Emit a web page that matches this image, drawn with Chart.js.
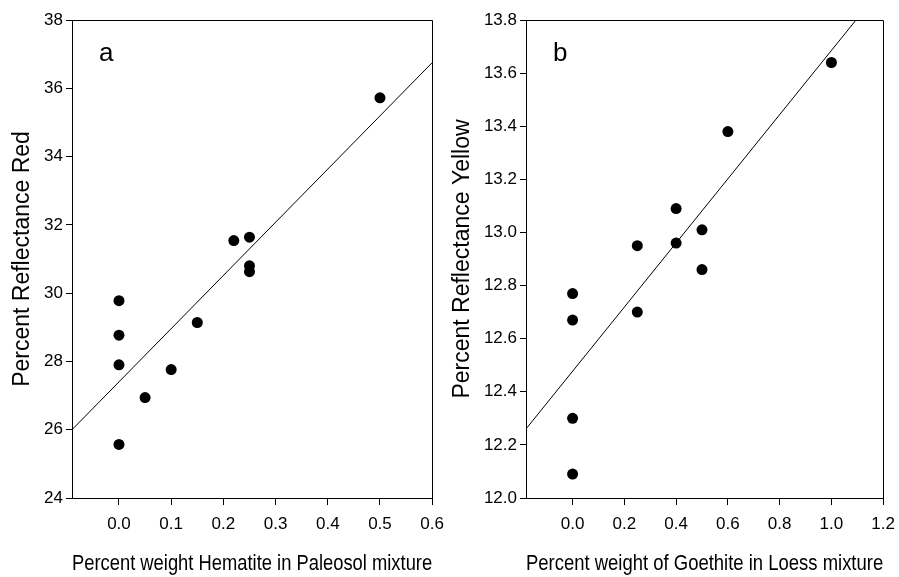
<!DOCTYPE html>
<html>
<head>
<meta charset="utf-8">
<script src="https://cdn.jsdelivr.net/npm/chart.js@4.4.1/dist/chart.umd.min.js"></script>
<style>
    html, body { margin: 0; padding: 0; background: #fff; overflow: hidden; }
    #wrap { position: relative; width: 899px; height: 577px; overflow: hidden; }
    #chart_a { position: absolute; left: 0; top: 0; }
    #chart_b { position: absolute; left: 440px; top: 0; }
</style>
</head>
<body>
<div id="wrap">
    <canvas id="chart_a" width="453" height="577"></canvas>
    <canvas id="chart_b" width="464" height="577"></canvas>
</div>
<script>

// Panel a : hematite in paleosol (x) vs percent reflectance red (y)
var hematite_x = [0, 0, 0, 0, 0.05, 0.1, 0.15, 0.22, 0.25, 0.25, 0.25, 0.5];
var red_y      = [29.78, 28.77, 27.9, 25.57, 26.94, 27.76, 29.14, 31.54, 31.64, 30.8, 30.63, 35.72];

// Regression line a, end points
var red_fit_x = [-0.09, 0.6];
var red_fit_y = [26.0, 36.75];

// Panel b : goethite in loess (x) vs percent reflectance yellow (y)
var goethite_x = [0, 0, 0, 0, 0.25, 0.25, 0.4, 0.4, 0.5, 0.5, 0.6, 1.0];
var yellow_y   = [12.77, 12.67, 12.30, 12.09, 12.95, 12.70, 13.09, 12.96, 13.01, 12.86, 13.38, 13.64];

// Regression line b (runs out of the top of the box)
var yellow_fit_x = [-0.18, 1.095];
var yellow_fit_y = [12.26, 13.8];

// Tick labels
var x_ticks_a = [0.0, 0.1, 0.2, 0.3, 0.4, 0.5, 0.6];
var y_ticks_a = [24, 26, 28, 30, 32, 34, 36, 38];
var x_ticks_b = [0.0, 0.2, 0.4, 0.6, 0.8, 1.0, 1.2];
var y_ticks_b = [12.0, 12.2, 12.4, 12.6, 12.8, 13.0, 13.2, 13.4, 13.6, 13.8];

var SANS = '"Liberation Sans", Arial, sans-serif';

function pairs( xs, ys ){
    var out = [];
    for( var i = 0; i < xs.length; i++ ){
        out.push( { x: xs[i], y: ys[i] } );
    }
    return out;
}

// draws the closed box round the plot and the panel letter
var frame_plugin = {
    id: 'frame',
    afterDraw: function( chart, args, opts ){
        var a = chart.chartArea;
        var ctx = chart.ctx;
        ctx.save();
        ctx.strokeStyle = '#000';
        ctx.lineWidth = 1;
        ctx.beginPath();
        ctx.moveTo( Math.round(a.left), Math.round(a.top) + 0.5 );
        ctx.lineTo( Math.round(a.right) + 0.5, Math.round(a.top) + 0.5 );
        ctx.lineTo( Math.round(a.right) + 0.5, Math.round(a.bottom) );
        ctx.stroke();

        ctx.fillStyle = '#000';
        ctx.font = '26px ' + SANS;
        ctx.textBaseline = 'alphabetic';
        ctx.fillText( opts.letter, a.left + 27, a.top + 41 );
        ctx.restore();
    }
};

function graph_draw( id, cfg ){

    var ctx = document.getElementById( id ).getContext('2d');

    return new Chart( ctx, {
        type: 'scatter',
        data: {
            datasets: [{
                data: pairs( cfg.px, cfg.py ),
                backgroundColor: '#000',
                borderWidth: 0,
                pointRadius: 5.5,
                pointHoverRadius: 5.5
            }, {
                type: 'line',
                data: pairs( cfg.fx, cfg.fy ),
                showLine: true,
                borderColor: '#000',
                borderWidth: 1,
                pointRadius: 0,
                fill: false
            }]
        },
        options: {
            responsive: false,
            animation: false,
            layout: { padding: { left: 0, right: 0, top: 20, bottom: 0 } },
            plugins: {
                legend: { display: false },
                tooltip: { enabled: false },
                frame: { letter: cfg.letter }
            },
            scales: {
                x: {
                    type: 'linear',
                    min: cfg.xmin,
                    max: cfg.xmax,
                    afterBuildTicks: function( scale ){
                        scale.ticks = cfg.xticks.map( function(v){ return { value: v }; } );
                    },
                    afterFit: function( scale ){ scale.height = 79; },
                    grid: { display: true, drawOnChartArea: false, drawTicks: true, tickLength: 7, color: '#000' },
                    border: { display: true, color: '#000', width: 1 },
                    ticks: {
                        color: '#000',
                        padding: 9,
                        font: { family: SANS, size: 17 },
                        callback: function(v){ return Number(v).toFixed(1); }
                    },
                    title: {
                        display: true,
                        text: cfg.xtitle,
                        color: '#000',
                        font: { family: SANS, size: 22 },
                        padding: { top: 0, bottom: 0 }
                    }
                },
                y: {
                    type: 'linear',
                    min: cfg.ymin,
                    max: cfg.ymax,
                    afterBuildTicks: function( scale ){
                        scale.ticks = cfg.yticks.map( function(v){ return { value: v }; } );
                    },
                    afterFit: function( scale ){ scale.width = cfg.yAxisWidth; },
                    grid: { display: true, drawOnChartArea: false, drawTicks: true, tickLength: 6, color: '#000' },
                    border: { display: true, color: '#000', width: 1 },
                    ticks: {
                        color: '#000',
                        padding: 3,
                        font: { family: SANS, size: 17 },
                        callback: function(v){ return cfg.ydec ? Number(v).toFixed(cfg.ydec) : String(v); }
                    },
                    title: {
                        display: true,
                        text: cfg.ytitle,
                        color: '#000',
                        font: { family: SANS, size: 23 },
                        padding: { top: 9, bottom: 0 }
                    }
                }
            }
        },
        plugins: [ frame_plugin ]
    });
}

graph_draw( 'chart_a', {
    px: hematite_x, py: red_y, fx: red_fit_x, fy: red_fit_y,
    xmin: -0.09, xmax: 0.6, ymin: 24, ymax: 38,
    xticks: x_ticks_a, yticks: y_ticks_a, ydec: 0,
    xtitle: 'Percent weight Hematite in Paleosol mixture',
    ytitle: 'Percent Reflectance Red',
    letter: 'a', yAxisWidth: 72
});

graph_draw( 'chart_b', {
    px: goethite_x, py: yellow_y, fx: yellow_fit_x, fy: yellow_fit_y,
    xmin: -0.18, xmax: 1.2, ymin: 12.0, ymax: 13.8,
    xticks: x_ticks_b, yticks: y_ticks_b, ydec: 1,
    xtitle: 'Percent weight of Goethite in Loess mixture',
    ytitle: 'Percent Reflectance Yellow',
    letter: 'b', yAxisWidth: 86
});

</script>
</body>
</html>
